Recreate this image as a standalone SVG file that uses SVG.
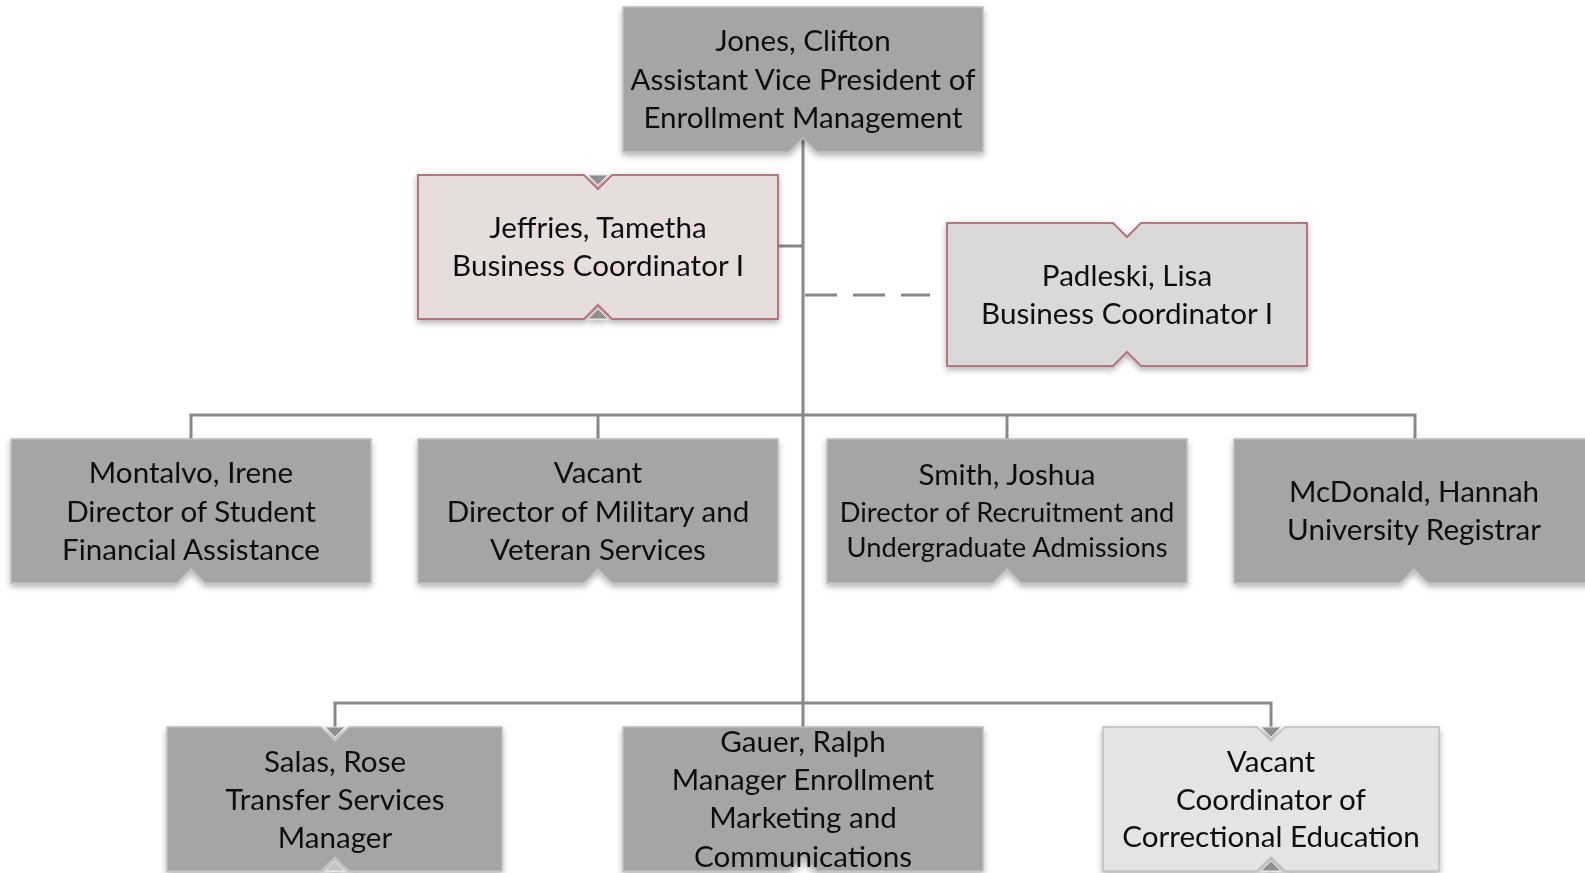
<svg xmlns="http://www.w3.org/2000/svg" width="1585" height="873" viewBox="0 0 1585 873">
<style>
.dark{fill:#a5a5a5;stroke:#bfbfbf;stroke-width:1.5}
.pink{fill:#e6dddd;stroke:#b8737b;stroke-width:2}
.lgrey{fill:#d9d9d9;stroke:#b8737b;stroke-width:2}
.light{fill:#e4e4e4;stroke:#bdbdbd;stroke-width:1.5}
.t{font-family:Lato,"Liberation Sans",sans-serif;font-size:29.6px;fill:#111;text-anchor:middle}
.ts{font-size:27.3px}
.conn{stroke:#888888;stroke-width:3;fill:none}
.arr{fill:#8f8f8f;stroke:#e8e8e8;stroke-width:1}
</style>
<defs>
<filter id="sh" x="-10%" y="-10%" width="120%" height="130%">
<feDropShadow dx="0" dy="3" stdDeviation="3" flood-color="#000" flood-opacity="0.3"/>
</filter>
</defs>

<g id="connectors">
<path class="conn" d="M803 138 V727"/>
<path class="conn" d="M779 246 H803"/>
<path class="conn" d="M805 295 H930" stroke-dasharray="32 16"/>
<path class="conn" d="M191 439 V415 H1415 V439"/>
<path class="conn" d="M598 415 V439"/>
<path class="conn" d="M1007 415 V439"/>
<path class="conn" d="M335 728 V703 H1271 V728"/>
</g>

<g id="jones" filter="url(#sh)">
<path class="dark" d="M623 7 H983 V152 H817 L803 138 L789 152 H623 Z"/>
<text class="t" x="803" y="51">Jones, Clifton</text>
<text class="t" x="803" y="90">Assistant Vice President of</text>
<text class="t" x="803" y="128">Enrollment Management</text>
</g>

<g id="jeffries" filter="url(#sh)">
<path class="pink" d="M418 175 H584 L598 189 L612 175 H778 V319 H612 L598 305 L584 319 H418 Z"/>
<path class="arr" d="M588 175 H608 L598 185 Z"/>
<path class="arr" d="M588 319 H608 L598 309 Z"/>
<text class="t" x="598" y="238">Jeffries, Tametha</text>
<text class="t" x="598" y="276">Business Coordinator I</text>
</g>

<g id="padleski" filter="url(#sh)">
<path class="lgrey" d="M947 223 H1113 L1127 237 L1141 223 H1307 V366 H1141 L1127 352 L1113 366 H947 Z"/>
<text class="t" x="1127" y="286">Padleski, Lisa</text>
<text class="t" x="1127" y="324">Business Coordinator I</text>
</g>

<g id="montalvo" filter="url(#sh)">
<path class="dark" d="M11 439 H371 V583 H205 L191 569 L177 583 H11 Z"/>
<text class="t" x="191" y="483">Montalvo, Irene</text>
<text class="t" x="191" y="522">Director of Student</text>
<text class="t" x="191" y="560">Financial Assistance</text>
</g>

<g id="vacant-military" filter="url(#sh)">
<path class="dark" d="M418 439 H778 V583 H612 L598 569 L584 583 H418 Z"/>
<text class="t" x="598" y="483">Vacant</text>
<text class="t" x="598" y="522">Director of Military and</text>
<text class="t" x="598" y="560">Veteran Services</text>
</g>

<g id="smith" filter="url(#sh)">
<path class="dark" d="M827 439 H1187 V583 H1021 L1007 569 L993 583 H827 Z"/>
<text class="t" x="1007" y="485">Smith, Joshua</text>
<text class="t ts" x="1007" y="522">Director of Recruitment and</text>
<text class="t ts" x="1007" y="557">Undergraduate Admissions</text>
</g>

<g id="mcdonald" filter="url(#sh)">
<path class="dark" d="M1234 439 H1594 V583 H1428 L1414 569 L1400 583 H1234 Z"/>
<text class="t" x="1414" y="502">McDonald, Hannah</text>
<text class="t" x="1414" y="540">University Registrar</text>
</g>

<g id="salas" filter="url(#sh)">
<path class="dark" d="M167 727 H321 L335 741 L349 727 H502 V871 H349 L335 857 L321 871 H167 Z"/>
<path class="arr" d="M325 727 H345 L335 737 Z"/>
<path class="arr" d="M325 871 H345 L335 861 Z" style="fill:#c4c4c4"/>
<text class="t" x="335" y="772">Salas, Rose</text>
<text class="t" x="335" y="810">Transfer Services</text>
<text class="t" x="335" y="848">Manager</text>
</g>

<g id="gauer" filter="url(#sh)">
<path class="dark" d="M623 727 H983 V871 H817 L803 857 L789 871 H623 Z"/>
<text class="t" x="803" y="752">Gauer, Ralph</text>
<text class="t" x="803" y="790">Manager Enrollment</text>
<text class="t" x="803" y="828">Marketing and</text>
<text class="t" x="803" y="867">Communications</text>
</g>

<g id="vacant-correctional" filter="url(#sh)">
<path class="light" d="M1103 727 H1257 L1271 741 L1285 727 H1439 V871 H1285 L1271 857 L1257 871 H1103 Z"/>
<path class="arr" d="M1261 727 H1281 L1271 737 Z"/>
<path class="arr" d="M1261 871 H1281 L1271 861 Z"/>
<text class="t" x="1271" y="772">Vacant</text>
<text class="t" x="1271" y="810">Coordinator of</text>
<text class="t" x="1271" y="847">Correctional Education</text>
</g>
</svg>
